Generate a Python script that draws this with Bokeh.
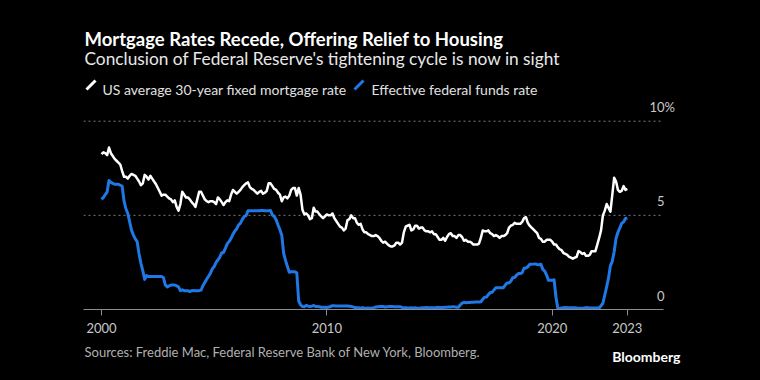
from bokeh.plotting import figure
from bokeh.layouts import column
from bokeh.models import Range1d, FixedTicker, Label, Arrow
from bokeh.embed import file_html
from bokeh.resources import INLINE

TITLE = "Mortgage Rates Recede, Offering Relief to Housing"
SUBTITLE = "Conclusion of Federal Reserve's tightening cycle is now in sight"
LEGEND_LABELS = ["US average 30-year fixed mortgage rate", "Effective federal funds rate"]
SOURCE = "Sources: Freddie Mac, Federal Reserve Bank of New York, Bloomberg."
BRAND = "Bloomberg"

# Monthly readings, Jan 2000 .. May 2023 (percent)
mortgage = [
    8.25, 8.35, 8.30, 8.20, 8.60, 8.30, 8.15, 8.00, 7.90, 7.80, 7.70, 7.35,  # 2000
    7.05, 7.05, 6.95, 7.10, 7.20, 7.15, 7.10, 6.95, 6.80, 6.60, 6.70, 7.15,  # 2001
    7.05, 6.90, 7.10, 6.95, 6.80, 6.65, 6.45, 6.25, 6.05, 6.10, 6.10, 6.00,  # 2002
    5.90, 5.85, 5.70, 5.80, 5.45, 5.25, 5.60, 6.25, 6.10, 5.95, 5.95, 5.85,  # 2003
    5.70, 5.60, 5.45, 5.85, 6.25, 6.25, 6.05, 5.85, 5.75, 5.70, 5.75, 5.75,  # 2004
    5.70, 5.60, 5.95, 5.85, 5.70, 5.55, 5.70, 5.80, 5.75, 6.10, 6.35, 6.25,  # 2005
    6.15, 6.25, 6.35, 6.50, 6.60, 6.70, 6.75, 6.50, 6.40, 6.35, 6.25, 6.15,  # 2006
    6.25, 6.30, 6.15, 6.20, 6.30, 6.70, 6.70, 6.55, 6.40, 6.35, 6.20, 6.10,  # 2007
    5.75, 5.95, 6.00, 5.90, 6.05, 6.35, 6.45, 6.45, 6.05, 6.45, 6.10, 5.30,  # 2008
    5.05, 5.10, 5.00, 4.80, 4.85, 5.40, 5.20, 5.20, 5.05, 4.95, 4.85, 4.95,  # 2009
    5.05, 5.00, 5.00, 5.10, 4.85, 4.70, 4.55, 4.40, 4.35, 4.20, 4.30, 4.75,  # 2010
    4.80, 5.00, 4.85, 4.85, 4.60, 4.50, 4.55, 4.25, 4.10, 4.10, 4.00, 3.95,  # 2011
    3.90, 3.90, 3.95, 3.90, 3.80, 3.65, 3.55, 3.60, 3.50, 3.40, 3.35, 3.35,  # 2012
    3.40, 3.55, 3.55, 3.45, 3.55, 4.10, 4.40, 4.45, 4.50, 4.20, 4.25, 4.45,  # 2013
    4.45, 4.30, 4.35, 4.35, 4.20, 4.15, 4.15, 4.10, 4.15, 4.00, 4.00, 3.85,  # 2014
    3.70, 3.70, 3.80, 3.65, 3.85, 4.00, 4.05, 3.90, 3.90, 3.80, 3.95, 3.95,  # 2015
    3.85, 3.65, 3.70, 3.60, 3.60, 3.55, 3.45, 3.45, 3.45, 3.50, 3.80, 4.20,  # 2016
    4.15, 4.15, 4.20, 4.05, 4.00, 3.90, 3.95, 3.90, 3.80, 3.90, 3.90, 3.95,  # 2017
    4.05, 4.35, 4.45, 4.50, 4.60, 4.55, 4.55, 4.55, 4.65, 4.85, 4.90, 4.60,  # 2018
    4.45, 4.35, 4.25, 4.15, 4.05, 3.80, 3.75, 3.60, 3.60, 3.70, 3.70, 3.70,  # 2019
    3.60, 3.45, 3.45, 3.30, 3.20, 3.15, 3.00, 2.95, 2.90, 2.80, 2.75, 2.70,  # 2020
    2.75, 2.80, 3.10, 3.05, 2.95, 3.00, 2.85, 2.85, 2.90, 3.10, 3.10, 3.10,  # 2021
    3.45, 3.80, 4.20, 5.00, 5.25, 5.60, 5.40, 5.20, 6.10, 7.00, 6.80, 6.35,  # 2022
    6.25, 6.30, 6.55, 6.35, 6.40,                                            # 2023
]

fedfunds = [
    5.85, 5.95, 6.10, 6.25, 6.85, 6.75, 6.70, 6.65, 6.65, 6.65, 6.60, 6.55,  # 2000
    5.75, 5.35, 5.10, 4.65, 4.20, 3.95, 3.75, 3.60, 2.95, 2.45, 2.05, 1.60,  # 2001
    1.80, 1.75, 1.75, 1.75, 1.75, 1.75, 1.75, 1.75, 1.75, 1.70, 1.30, 1.20,  # 2002
    1.25, 1.30, 1.30, 1.30, 1.25, 1.20, 1.00, 1.05, 1.00, 1.00, 1.00, 0.95,  # 2003
    1.00, 1.01, 1.00, 1.00, 1.00, 1.03, 1.26, 1.43, 1.61, 1.76, 1.93, 2.16,  # 2004
    2.28, 2.50, 2.63, 2.79, 3.00, 3.04, 3.26, 3.50, 3.62, 3.78, 4.00, 4.16,  # 2005
    4.29, 4.49, 4.59, 4.79, 4.94, 4.99, 5.24, 5.25, 5.25, 5.25, 5.25, 5.24,  # 2006
    5.25, 5.26, 5.26, 5.25, 5.25, 5.25, 5.26, 5.02, 4.94, 4.76, 4.49, 4.24,  # 2007
    3.94, 2.98, 2.61, 2.28, 1.98, 2.00, 2.01, 2.00, 1.95, 0.45, 0.25, 0.16,  # 2008
    0.15, 0.22, 0.18, 0.15, 0.18, 0.21, 0.16, 0.16, 0.15, 0.12, 0.12, 0.12,  # 2009
    0.11, 0.13, 0.16, 0.20, 0.20, 0.18, 0.18, 0.19, 0.19, 0.19, 0.19, 0.18,  # 2010
    0.17, 0.16, 0.14, 0.10, 0.09, 0.09, 0.07, 0.10, 0.08, 0.07, 0.08, 0.07,  # 2011
    0.08, 0.10, 0.13, 0.14, 0.16, 0.16, 0.16, 0.13, 0.14, 0.16, 0.16, 0.16,  # 2012
    0.14, 0.15, 0.14, 0.15, 0.11, 0.09, 0.09, 0.08, 0.08, 0.09, 0.08, 0.09,  # 2013
    0.07, 0.07, 0.08, 0.09, 0.09, 0.10, 0.09, 0.09, 0.09, 0.09, 0.09, 0.12,  # 2014
    0.11, 0.11, 0.11, 0.12, 0.12, 0.13, 0.13, 0.14, 0.14, 0.12, 0.12, 0.24,  # 2015
    0.34, 0.38, 0.36, 0.37, 0.37, 0.38, 0.39, 0.40, 0.40, 0.40, 0.41, 0.54,  # 2016
    0.65, 0.66, 0.79, 0.90, 0.91, 1.04, 1.15, 1.16, 1.15, 1.15, 1.16, 1.30,  # 2017
    1.41, 1.42, 1.51, 1.69, 1.70, 1.82, 1.91, 1.91, 1.95, 2.19, 2.20, 2.27,  # 2018
    2.40, 2.40, 2.41, 2.42, 2.39, 2.38, 2.40, 2.13, 2.04, 1.83, 1.55, 1.55,  # 2019
    1.55, 1.58, 0.65, 0.05, 0.05, 0.08, 0.09, 0.10, 0.09, 0.09, 0.09, 0.09,  # 2020
    0.09, 0.08, 0.07, 0.07, 0.06, 0.08, 0.10, 0.09, 0.08, 0.08, 0.08, 0.08,  # 2021
    0.08, 0.08, 0.20, 0.33, 0.77, 1.21, 1.68, 2.33, 2.56, 3.08, 3.78, 4.10,  # 2022
    4.33, 4.57, 4.65, 4.83, 4.85,                                            # 2023
]

FIRST_YEAR = 2000
dates = [FIRST_YEAR + i / 12 for i in range(len(mortgage))]

x_tick_labels = ["2000", "2010", "2020", "2023"]
x_ticks = [2000, 2010, 2020, dates[-1]]
y_ticks = [0, 5, 10]
y_tick_labels = ["0", "5", "10"]

WHITE = "#ffffff"
BLUE = "#1f78e6"
FONT = "Lato"
BG = "#000000"
DY = 6  # baseline correction for label placement

# plot area: x 1999.20 .. 2028.53 (frame to the right edge), grid ends at 2024.94
X_START, X_END, GRID_END = 1999.201, 2028.533, 2024.939
LEFT = 83

p = figure(
    width=744, height=340,
    x_range=Range1d(X_START, X_END), y_range=Range1d(0, 16.41),
    output_backend="svg", toolbar_location=None,
    min_border_left=LEFT, min_border_right=0, min_border_top=0, min_border_bottom=31,
    background_fill_color=BG, border_fill_color=BG, outline_line_color=None,
)
p.yaxis.visible = False
p.grid.visible = False

ax = p.xaxis[0]
ax.ticker = FixedTicker(ticks=x_ticks)
ax.major_label_overrides = dict(zip(x_ticks, x_tick_labels))
ax.bounds = (X_START, GRID_END)
ax.axis_line_color = "#8c8c8c"
ax.axis_line_width = 1
ax.major_tick_line_color = "#8c8c8c"
ax.major_tick_out = 6
ax.major_tick_in = 0
ax.minor_tick_line_color = None
ax.major_label_text_color = "#c8c8c8"
ax.major_label_text_font = FONT
ax.major_label_text_font_size = "13px"
ax.major_label_standoff = 7

grid_y = y_ticks[1:]
p.segment(x0=[X_START] * len(grid_y), y0=grid_y, x1=[GRID_END] * len(grid_y), y1=grid_y,
          line_color="#7a7a7a", line_dash="2 3", line_width=1)

LABEL_SX = 581
for yv, lab in zip(y_ticks, y_tick_labels):
    p.add_layout(Label(x=LABEL_SX, x_units="screen", y=yv, y_units="data", text=lab,
                       text_align="right", text_baseline="alphabetic", y_offset=8 + DY,
                       text_font=FONT, text_font_size="13px", text_color="#c8c8c8"))
p.add_layout(Label(x=LABEL_SX, x_units="screen", y=y_ticks[-1], y_units="data", text="%",
                   text_align="left", text_baseline="alphabetic", y_offset=8 + DY,
                   text_font=FONT, text_font_size="13px", text_color="#c8c8c8"))

p.line(dates, mortgage, line_color=WHITE, line_width=2.5, line_join="round")
p.line(dates, fedfunds, line_color=BLUE, line_width=3, line_join="round")


def screen_label(fig, x, y, text, size, color, bold=False, align="left"):
    fig.add_layout(Label(x=x, y=y + DY, x_units="screen", y_units="screen", text=text,
                         text_font=FONT, text_font_size=size, text_color=color,
                         text_font_style="bold" if bold else "normal",
                         text_align=align, text_baseline="alphabetic"))


screen_label(p, 1, 265, TITLE, "18.5px", WHITE, bold=True)
screen_label(p, 1, 245, SUBTITLE, "17.3px", "#e8e8e8")

for (x0, tx), lab, col in zip([(3, 19), (271, 288)], LEGEND_LABELS, [WHITE, BLUE]):
    p.add_layout(Arrow(x_start=x0, y_start=214 + DY, x_end=x0 + 9, y_end=223 + DY,
                       start_units="screen", end_units="screen", end=None,
                       line_color=col, line_width=3))
    screen_label(p, tx, 214, lab, "14px", "#e0e0e0")

foot = figure(
    width=744, height=30, x_range=Range1d(0, 661), y_range=Range1d(0, 30),
    output_backend="svg", toolbar_location=None,
    min_border_left=LEFT, min_border_right=0, min_border_top=0, min_border_bottom=0,
    background_fill_color=BG, border_fill_color=BG, outline_line_color=None,
)
foot.axis.visible = False
foot.grid.visible = False
screen_label(foot, 84 - LEFT, 12.3, SOURCE, "13px", "#b0b0b0")
screen_label(foot, 680 - LEFT, 8.3, BRAND, "14px", WHITE, bold=True, align="right")

layout = column(p, foot, spacing=0, styles={"background-color": BG})

html = file_html(layout, INLINE)
html = html.replace("</head>", "<style>html, body { background-color: #000000; }</style>\n</head>", 1)
open("out.html", "w").write(html)
